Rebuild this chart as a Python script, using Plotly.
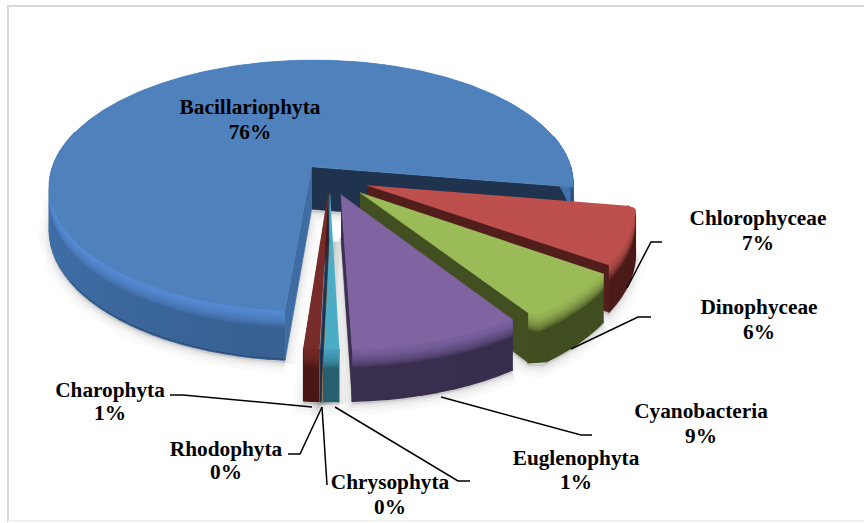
import math
import plotly.graph_objects as go

# ---------- data ----------
categories = ["Bacillariophyta", "Chlorophyceae", "Dinophyceae", "Cyanobacteria",
              "Euglenophyta", "Chrysophyta", "Rhodophyta", "Charophyta"]
values = [76, 7, 6, 8.85, 0.8, 0.06, 0.02, 0.8]
percent_labels = ["76%", "7%", "6%", "9%", "1%", "0%", "0%", "1%"]

top_colors = ["#4F81BD", "#BD4F4C", "#9BBB59", "#8064A2", "#4BACC6", "#F79646", "#2C4D75", "#772C2A"]
rim_colors = ["#5B93DB", "#C45552", "#A3C45F", "#8468A8", "#4BACC6", "#F79646", "#2C4D75", "#772C2A"]
wall_left = ["#4172AC", "#521E1C", "#445322", "#46365E", "#27606F", "#B06A30", "#1C3350", "#4A1715"]
wall_right = ["#2D4B73", "#4A1A18", "#3F4C1E", "#2F2842", "#27606F", "#B06A30", "#1C3350", "#4A1715"]
end_wall = ["#3F6DA3", "#521E1C", "#425021", "#3D2F52", "#27606F", "#B06A30", "#1C3350", "#4A1715"]
explode = [0.115, 0.15, 0.16, 0.135, 0.13, 0.13, 0.13, 0.13]
round_start = [0, 1, 0, 0, 0, 0, 0, 0]
round_end = [0, 0, 1, 0, 0, 0, 0, 0]
start_angle = 184.4

label_pos = {
    "Bacillariophyta": (250, 109, 134), "Chlorophyceae": (758, 220, 245),
    "Dinophyceae": (759, 309, 334), "Cyanobacteria": (701, 413, 438),
    "Euglenophyta": (576, 460, 484), "Chrysophyta": (390, 484, 509),
    "Rhodophyta": (226, 451, 474), "Charophyta": (110, 392, 415),
}
leaders = [
    [(627, 288), (651, 242), (662, 242)],
    [(571, 349), (638, 317), (651, 317)],
    [(441, 397), (581, 435), (592, 435)],
    [(335, 407), (458, 481), (470, 481)],
    [(322, 407), (327, 485)],
    [(322, 407), (300, 454), (288, 454)],
    [(312, 407), (183, 395), (170, 395)],
]

# ---------- projection ----------
CX, CY, RX, RY, K, T = 330.0, 178.0, 262.5, 126.0, 0.151, 43.0


def proj(X, Y, z=0.0):
    d = 1 - K * Y
    return CX + RX * X / d, CY + (RY * Y + T * z) / d


def hex2rgb(c):
    return [int(c[i:i + 2], 16) for i in (1, 3, 5)]


def mix(a, b, t):
    ra, rb = hex2rgb(a), hex2rgb(b)
    return "#%02X%02X%02X" % tuple(round(x + (y - x) * t) for x, y in zip(ra, rb))


def rgba(c, alpha):
    r, g, b = hex2rgb(c)
    return f"rgba({r},{g},{b},{alpha})"


fig = go.Figure()


def poly(pts, color, lw=0.6, fill=True, fillcolor=None):
    fig.add_trace(go.Scatter(
        x=[p[0] for p in pts], y=[p[1] for p in pts], mode="lines",
        fill="toself" if fill else "none", fillcolor=fillcolor or color,
        line=dict(color=color, width=lw), hoverinfo="skip", showlegend=False))


total = sum(values)
wedges = []
a = start_angle
for i, v in enumerate(values):
    span = v / total * 360
    wedges.append((i, a, a + span))
    a += span


def point(wedge, phi_deg, r=1.0, z=0.0):
    i, a0, a1 = wedge
    m = math.radians((a0 + a1) / 2)
    p = math.radians(phi_deg)
    if r == 1.0:
        if round_start[i] and phi_deg - a0 < 1.6:
            r -= 0.03 * (1 - (phi_deg - a0) / 1.6) ** 2
        if round_end[i] and a1 - phi_deg < 1.6:
            r -= 0.03 * (1 - (a1 - phi_deg) / 1.6) ** 2
    X = explode[i] * math.sin(m) + r * math.sin(p)
    Y = -explode[i] * math.cos(m) - r * math.cos(p)
    return proj(X, Y, z)


def arc(wedge, z=0.0, r=1.0, step=0.4):
    i, a0, a1 = wedge
    n = max(2, int((a1 - a0) / step))
    return [point(wedge, a0 + (a1 - a0) * j / n, r, z) for j in range(n + 1)]


# soft shadow
for lw, alpha in ((22, 0.018), (14, 0.025), (8, 0.03), (3, 0.04)):
    for w in wedges:
        pts = [(x, y + 3) for x, y in arc(w, 1.0, step=2.0)]
        q = point(w, w[1], 0, 1.0)
        pts.append((q[0], q[1] + 3))
        pts.append(pts[0])
        col = f"rgba(0,0,0,{alpha})"
        poly(pts, col, lw=lw, fillcolor=col)

# frame
poly([(8, 522), (8, 6), (864, 6)], "#D9D9D9", lw=2, fill=False)
poly([(8, 521), (864, 521)], "#EFEFEF", lw=1.5, fill=False)

# slices, back to front
for w in wedges:
    i, a0, a1 = w
    top, wl, wr, ew = top_colors[i], wall_left[i], wall_right[i], end_wall[i]
    # dark inner face of the main slice
    if i == 0:
        poly([point(w, a1, 1), point(w, a1, 1, 1), point(w, a1, 0, 1), point(w, a1, 0)], "#1F334E")
    # outer wall strips, coloured along the arc
    seg = 3.0
    n = max(2, int((a1 - a0) / seg))
    for j in range(n):
        p0 = a0 + (a1 - a0) * j / n
        p1 = a0 + (a1 - a0) * (j + 1) / n
        if math.cos(math.radians(p0)) > 0.25 and math.cos(math.radians(p1)) > 0.25:
            continue
        f = max(0.0, min(1.0, (((p0 + p1) / 2 - 90) % 360) / 180))
        col = mix(wr, wl, f)
        poly([point(w, p0, 1), point(w, p1, 1), point(w, p1, 1, 1), point(w, p0, 1, 1)], col, lw=1.4)
    # darker foot of the wall on the main slice
    if i == 0:
        poly([point(w, a0 + d, 1, 0.985) for d in range(0, 56, 2)], "#2A4468", lw=0.8, fill=False)
    # radial wall facing the viewer
    if i == 0:
        poly([point(w, a0, 0), point(w, a0, 1), point(w, a0, 1, 1), point(w, a0, 0, 1)], ew)
    else:
        poly([point(w, a1, 0), point(w, a1, 1), point(w, a1, 1, 1), point(w, a1, 0, 1)], ew)
    # bevel: stacked translucent bands blending the rim colour into the wall
    upper = arc(w, 0.0, step=1.0)
    for zb in (0.34, 0.30, 0.26, 0.22, 0.18, 0.15, 0.12, 0.09, 0.06, 0.03):
        lower = arc(w, zb, step=1.0)
        poly(upper + lower[::-1], "rgba(0,0,0,0)", lw=0, fillcolor=rgba(rim_colors[i], 0.2))
    # top face
    poly(arc(w, 0.0) + [point(w, a0, 0)], top)

# leader lines
for pts in leaders:
    poly(pts, "#000000", lw=1.5, fill=False)

# labels
lx, ly, lt = [], [], []
for name, pct in zip(categories, percent_labels):
    x, y1, y2 = label_pos[name]
    lx += [x, x]
    ly += [y1, y2]
    lt += [name, pct]
fig.add_trace(go.Scatter(x=lx, y=ly, text=lt, mode="text", textposition="middle center",
                         textfont=dict(family="Liberation Serif", size=21.3, color="#000000"),
                         texttemplate="<b>%{text}</b>", hoverinfo="skip", showlegend=False))

fig.update_layout(
    width=864, height=523, margin=dict(l=0, r=0, t=0, b=0),
    paper_bgcolor="#FFFFFF", plot_bgcolor="#FFFFFF", showlegend=False,
    xaxis=dict(range=[0, 864], visible=False, fixedrange=True),
    yaxis=dict(range=[523, 0], visible=False, fixedrange=True),
)
fig.write_html("out.html", config={"displayModeBar": False},
               post_script="document.body.style.margin='0';document.body.style.overflow='hidden';")
